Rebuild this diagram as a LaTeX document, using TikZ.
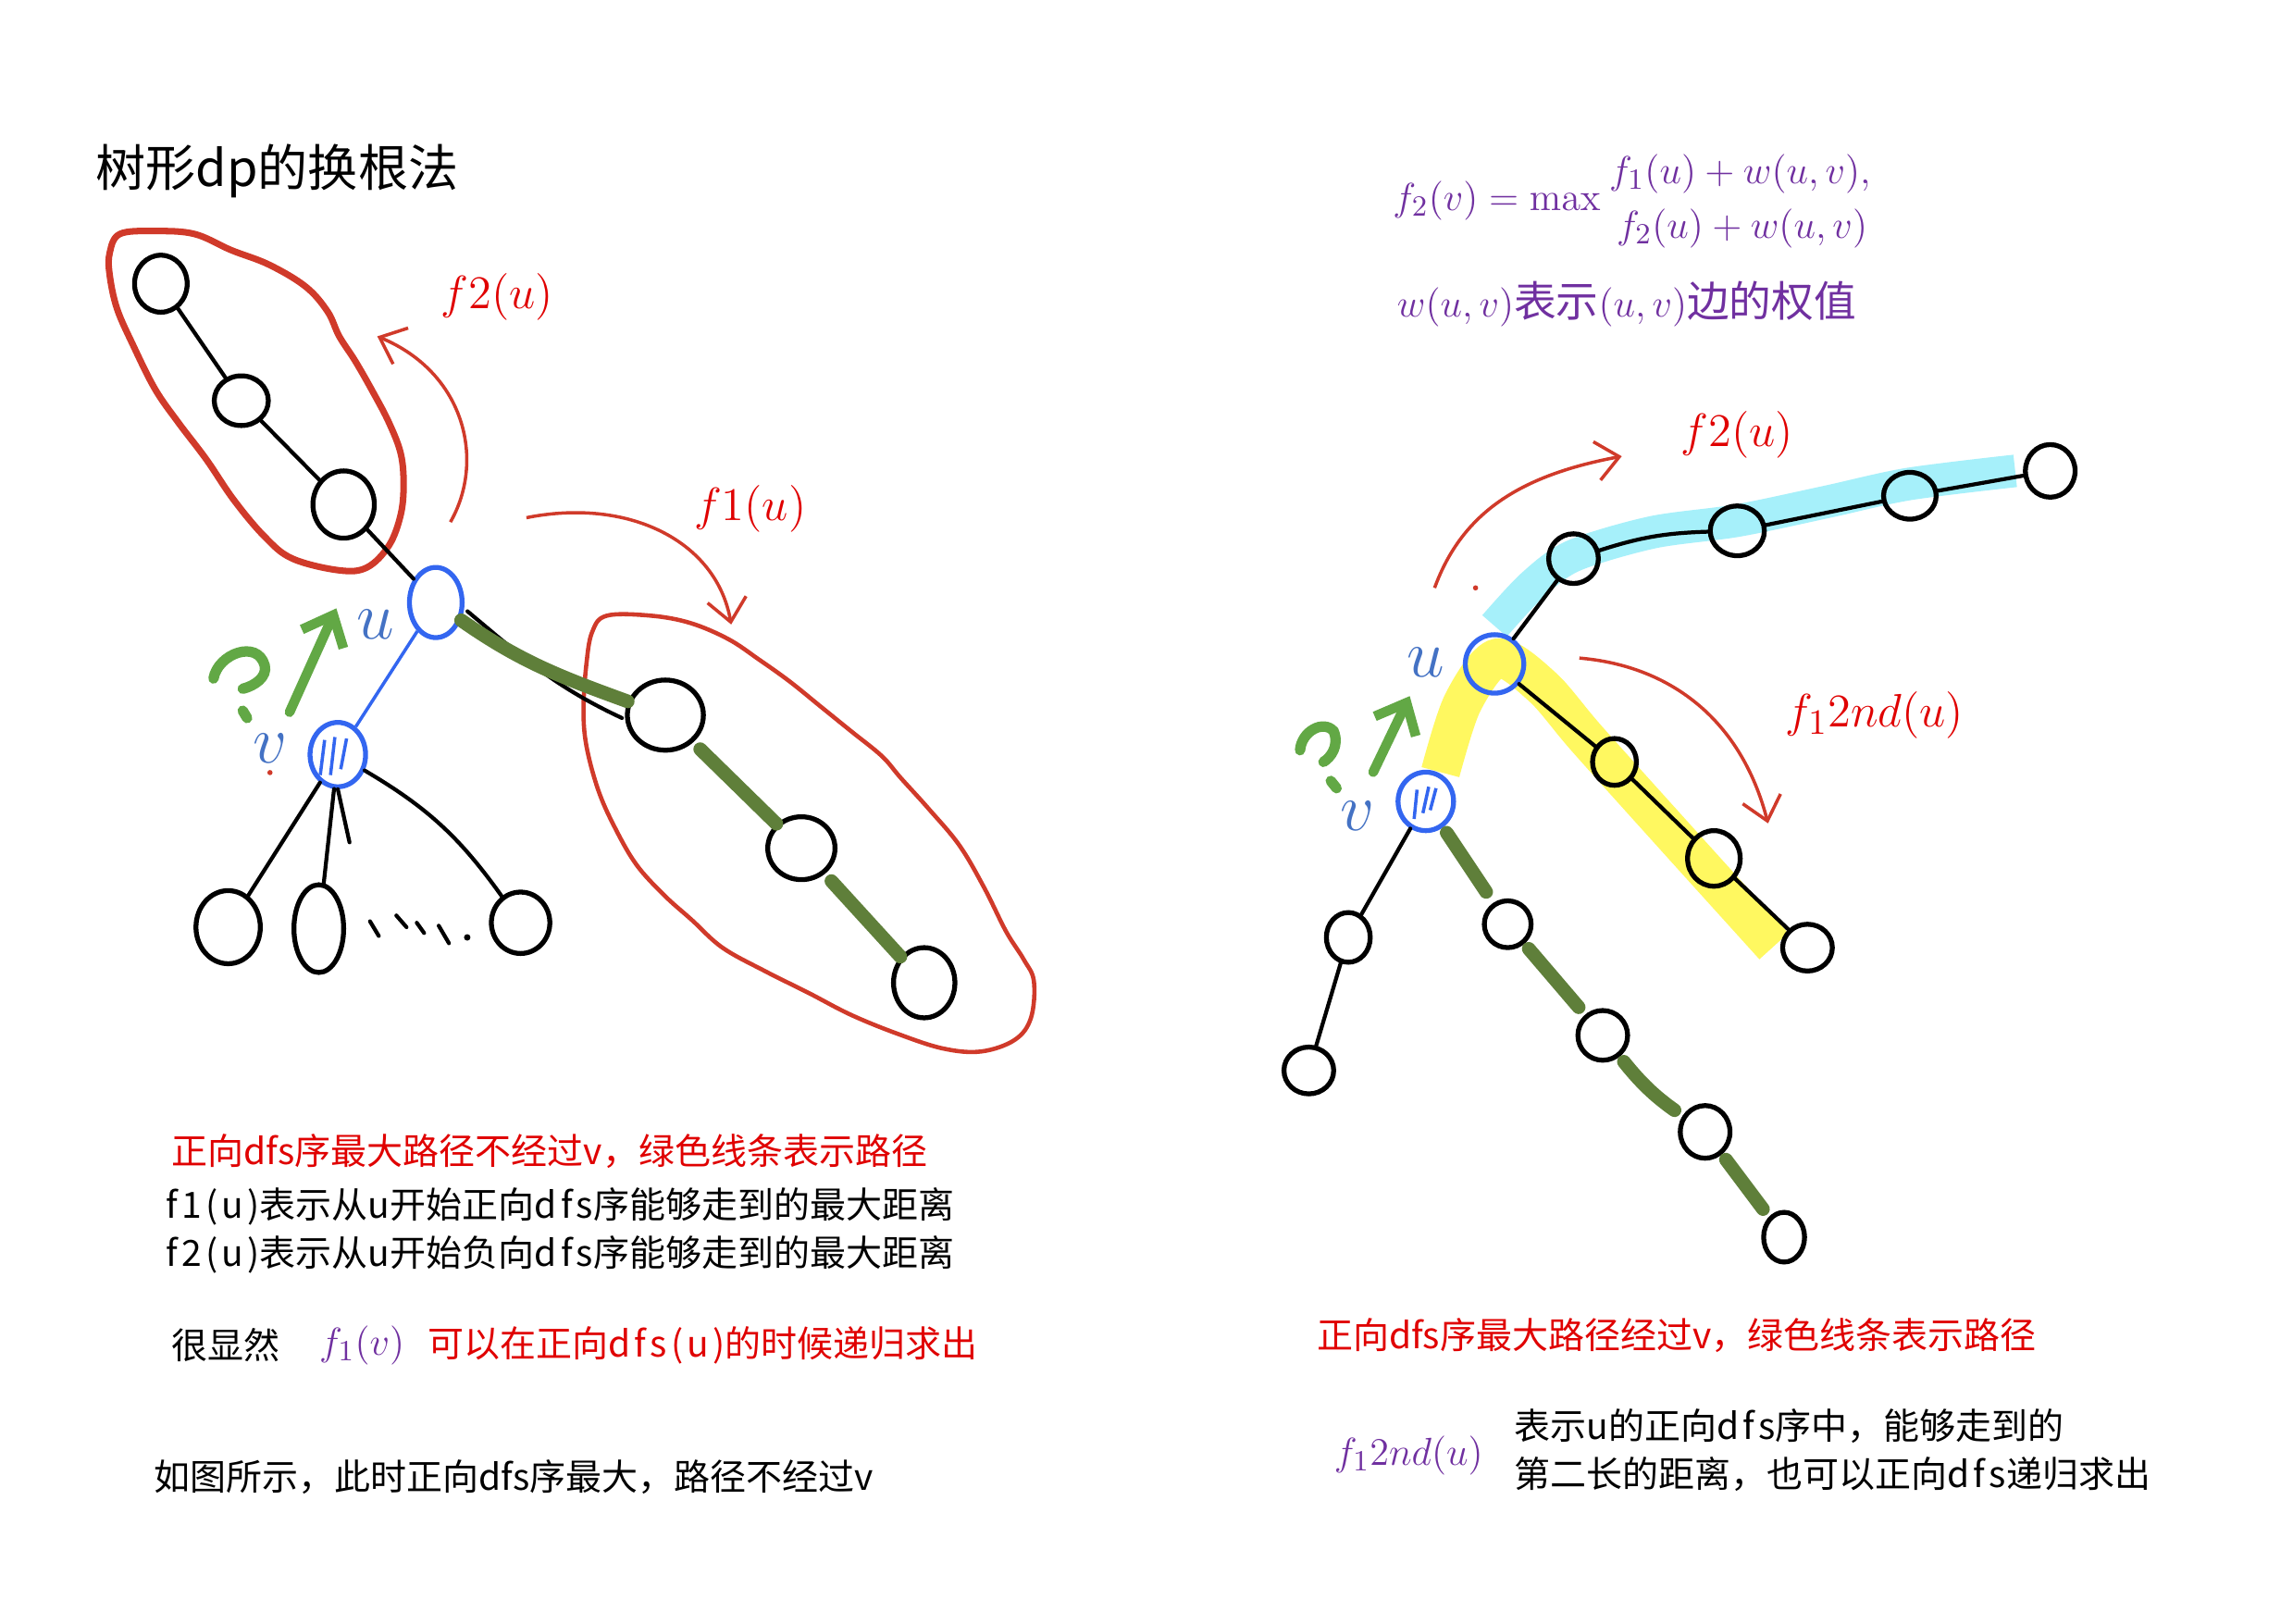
\documentclass[tikz,border=0pt]{standalone}
\usepackage[no-math]{fontspec}
\setmainfont{Noto Sans CJK SC}
\newfontfamily\spfont[LetterSpace=11]{Noto Sans CJK SC}
\usetikzlibrary{shapes.geometric,arrows.meta}
\definecolor{tred}{HTML}{E00000}
\definecolor{sred}{HTML}{D03A2A}
\definecolor{bl}{HTML}{3366F0}
\definecolor{lbl}{HTML}{4472C4}
\definecolor{gr}{HTML}{62A845}
\definecolor{dgr}{HTML}{5F7F3A}
\definecolor{pur}{HTML}{7030A0}
\definecolor{cy}{HTML}{A6F0FA}
\definecolor{yl}{HTML}{FFF860}
\newcommand{\msp}[1]{{\spfont #1}}
\begin{document}
\begin{tikzpicture}[x=0.4497pt,y=-0.4497pt,
  sz/.style 2 args={minimum width=#1*0.4497pt, minimum height=#2*0.4497pt},
  nd/.style={draw=black, line width=1.5pt, ellipse, inner sep=0pt},
  bnd/.style={draw=bl, line width=1.5pt, ellipse, inner sep=0pt},
  edge/.style={line width=1.2pt, line cap=round},
  gpath/.style={dgr, line width=4.2pt, line cap=round},
  blob/.style={sred, line width=2pt},
  rarr/.style={sred, line width=1pt, -{Straight Barb[length=7pt,width=12pt]}},
  garr/.style={gr, line width=3pt, line cap=round, -{Straight Barb[length=8pt,width=14pt,line width=3pt]}},
  qm/.style={gr, line width=3.2pt, line cap=round},
  lab/.style={text=lbl, font=\fontsize{20}{24}\selectfont, inner sep=0pt},
  rlab/.style={text=tred, font=\fontsize{15}{18}\selectfont, inner sep=0pt},
  mth/.style={text=pur, font=\fontsize{13}{15}\selectfont, inner sep=0pt},
  txt/.style={font=\fontsize{11.1}{14}\selectfont, anchor=west, inner sep=0pt},
  ptxt/.style={text=pur, font=\fontsize{12.8}{15}\selectfont, anchor=west, inner sep=0pt}]
\useasboundingbox (0,0) rectangle (1568,1110);
\fill[white] (0,0) rectangle (1568,1110);

% title
\node[anchor=west, inner sep=0pt, font=\fontsize{15.4}{19}\selectfont] (title) at (65,117) {树形dp的换根法};

% ---------- left tree ----------
\draw[blob] plot[smooth cycle, tension=0.6] coordinates {(82,160) (106,158) (133,160) (158,171) (184,181) (209,196) (224,213) (232,230) (243,247) (255,268) (266,289) (274,310) (276,331) (274,352) (266,373) (251,388) (232,390) (200,382) (181,367) (160,342) (141,314) (122,289) (106,266) (91,236) (80,211) (75,188) (75,173)};
\draw[sred, line width=1.3pt] plot[smooth cycle, tension=0.6] coordinates {(415,421) (445,421) (472,426) (498,437) (519,451) (540,466) (561,483) (582,500) (603,517) (616,532) (635,553) (656,578) (673,607) (688,637) (700,656) (707,671) (705,696) (694,711) (671,719) (645,717) (614,707) (582,694) (553,679) (523,664) (494,648) (473,629) (454,612) (435,591) (420,565) (409,540) (401,510) (399,485) (401,454) (405,432)};

\node[nd, sz={36}{39}] (L1) at (110,194) {};
\node[nd, sz={37}{34}] (L2) at (165,274) {};
\node[nd, sz={42}{46}] (L3) at (235,345) {};
\node[bnd, sz={36}{48}] (Lu) at (298,412) {};
\node[bnd, sz={38}{44}] (Lv) at (231,516) {};
\node[nd, sz={52}{48}] (A) at (455,489) {};
\node[nd, sz={46}{43}] (B) at (548,580) {};
\node[nd, sz={42}{48}] (C) at (632,672) {};
\node[nd, sz={44}{50}] (c1) at (156,634) {};
\node[nd, sz={34}{60}] (c2) at (218,635) {};
\node[nd, sz={40}{42}] (c3) at (356,631) {};

\draw[edge] (L1) -- (L2);
\draw[edge] (L2) -- (L3);
\draw[edge] (L3) -- (Lu);
\draw[bl, line width=1pt] (Lu) -- (Lv);
\draw[edge] ([shift={(2,6)}]Lu.east) to[out=-40,in=155] ([shift={(-2,2)}]A.west);
\draw[gpath] (Lu) to[out=-35,in=160] (A);
\draw[gpath, shorten <=3pt] (A) -- (B);
\draw[gpath, shorten <=3pt] (B) -- (C);
\draw[edge] (Lv) -- (c1);
\draw[edge] (Lv) -- (c2);
\draw[edge] (Lv) to[bend left=12] (c3);
\coordinate (stub) at (239,576);
\draw[edge] (Lv.south) -- (stub);
% hatching in v
\draw[bl, line width=1pt] ([shift={(-9,-10)}]Lv.center) -- ([shift={(-12,14)}]Lv.center)
  ([shift={(-2,-12)}]Lv.center) -- ([shift={(-5,14)}]Lv.center)
  ([shift={(6,-11)}]Lv.center) -- ([shift={(2,10)}]Lv.center);
% dots
\draw[edge] (253,630) -- (259,640) (271,626) -- (278,634) (285,631) -- (290,638) (300,633) -- (307,645);
\fill (319.5,641) circle (1pt);

\node[lab] (ul) at (257,427) {$u$};
\node[lab] (vl) at (185,512) {$v$};
\fill[sred] (184.6,528.3) circle (0.8pt);

% green question and arrow
\coordinate (ga1) at (198,487);
\coordinate (ga2) at (230,416);
\draw[garr] (ga1) -- (ga2);
\draw[qm] (146,464) .. controls (149,447) and (176,437) .. (181,455) .. controls (183,463) and (174,469) .. (166,471);
\draw[qm] (166,486) -- (169,491);

% red arrows
\coordinate (a1s) at (308,357);
\coordinate (a1e) at (258,230);
\draw[rarr] (a1s) .. controls (332,315) and (318,255) .. (a1e);
\coordinate (a2s) at (360,354);
\coordinate (a2e) at (500,427);
\draw[rarr] (a2s) .. controls (430,340) and (490,370) .. (a2e);
\node[rlab] (f2l) at (340,203) {$f2(u)$};
\node[rlab] (f1l) at (513,348) {$f1(u)$};

% ---------- right tree ----------
\draw[cy, line width=10pt] plot[smooth] coordinates {(1022,428) (1048,400) (1076,380) (1130,364) (1188,356) (1250,343) (1305,331) (1378,322)};
\draw[yl, line width=12pt] plot[smooth] coordinates {(985,528) (1000,481) (1024,450) (1055,470) (1085,505) (1147,574) (1213,647)};

\node[bnd, sz={40}{40}] (Ru) at (1022,454) {};
\node[bnd, sz={38}{40}] (Rv) at (975,548) {};
\node[nd, sz={34}{34}] (R1) at (1076,382) {};
\node[nd, sz={37}{34}] (R2) at (1188,363) {};
\node[nd, sz={36}{32}] (R3) at (1306,339) {};
\node[nd, sz={34}{36}] (R4) at (1402,322) {};
\node[nd, sz={30}{32}] (R5) at (1104,521) {};
\node[nd, sz={36}{38}] (R6) at (1172,587) {};
\node[nd, sz={34}{32}] (R7) at (1236,648) {};
\node[nd, sz={30}{34}] (R8) at (922,641) {};
\node[nd, sz={34}{32}] (R9) at (895,732) {};
\node[nd, sz={32}{32}] (R10) at (1031,632) {};
\node[nd, sz={34}{34}] (R11) at (1096,708) {};
\node[nd, sz={34}{36}] (R12) at (1166,774) {};
\node[nd, sz={28}{34}] (R13) at (1220,846) {};

\draw[edge] (Ru) -- (R1);
\draw[edge] (R1) to[bend left=8] (R2);
\draw[edge] (R2) -- (R3);
\draw[edge] (R3) -- (R4);
\draw[edge] (Ru) -- (R5);
\draw[edge] (R5) -- (R6);
\draw[edge] (R6) -- (R7);
\draw[edge] (Rv) -- (R8);
\draw[edge] (R8) -- (R9);
\draw[gpath, shorten <=2pt, shorten >=4pt] (Rv) -- (R10);
\draw[gpath, shorten <=2pt, shorten >=3pt] (R10) -- (R11);
\draw[gpath, shorten <=2pt, shorten >=3pt] (R11) to[bend right=8] (R12);
\draw[gpath, shorten <=2pt, shorten >=3pt] (R12) -- (R13);
\draw[bl, line width=1pt] ([shift={(-6,-8)}]Rv.center) -- ([shift={(-8,12)}]Rv.center)
  ([shift={(2,-10)}]Rv.center) -- ([shift={(-2,8)}]Rv.center)
  ([shift={(7,-9)}]Rv.center) -- ([shift={(3,6)}]Rv.center);

\node[lab] (ul2) at (975,453) {$u$};
\node[lab] (vl2) at (928,558) {$v$};
\fill[sred] (1009,402) circle (0.8pt);

\coordinate (gb1) at (939,528);
\coordinate (gb2) at (964,476);
\draw[garr] (gb1) -- (gb2);
\draw[qm] (889,513) .. controls (890,500) and (905,492) .. (912,500) .. controls (916,510) and (910,518) .. (905,521);
\draw[qm] (910,534) -- (914,539);

\coordinate (b1s) at (981,402);
\coordinate (b1e) at (1109,312);
\draw[rarr] (b1s) .. controls (1000,350) and (1040,325) .. (b1e);
\coordinate (b2s) at (1080,450);
\coordinate (b2e) at (1209,563);
\draw[rarr] (b2s) .. controls (1140,455) and (1190,490) .. (b2e);
\node[rlab] (f2r) at (1188,297) {$f2(u)$};
\node[rlab] (f12r) at (1282,489) {$f_1 2nd(u)$};

% ---------- formulas ----------
\node[mth, anchor=east] (fm) at (1095,137) {$f_2(v) = \mathrm{max}$};
\node[mth, anchor=west] (fa) at (1100,119) {$f_1(u) + w(u,v),$};
\node[mth, anchor=west] (fb) at (1105,156) {$f_2(u) + w(u,v)$};
\node[ptxt, font=\fontsize{13}{15}\selectfont] (wl) at (955,208) {$w(u,v)$表示$(u,v)$边的权值};

% ---------- texts ----------
\node[txt, text=tred] (t1) at (117,787) {正向dfs序最大路径不经过v，绿色线条表示路径};
\node[txt] (t2) at (113,825) {\msp{f1(u)}表示从u开始正向\msp{dfs}序能够走到的最大距离};
\node[txt] (t3) at (113,858) {\msp{f2(u)}表示从u开始负向\msp{dfs}序能够走到的最大距离};
\node[txt] (t4) at (117,920) {很显然};
\node[ptxt] (t4m) at (218,920) {$f_1(v)$};
\node[txt, text=tred] (t4r) at (292,920) {可以在正向\msp{dfs(u)}的时候递归求出};
\node[txt] (t5) at (105,1010) {如图所示，此时正向dfs序最大，路径不经过v};
\node[txt, text=tred] (t6) at (900,913) {正向dfs序最大路径经过v，绿色线条表示路径};
\node[ptxt] (t7m) at (912,995) {$f_1 2nd(u)$};
\node[txt] (t7a) at (1035,975) {表示u的正向\msp{dfs}序中，能够走到的};
\node[txt] (t7b) at (1035,1008) {第二长的距离，也可以正向\msp{dfs}递归求出};
\end{tikzpicture}
\end{document}
